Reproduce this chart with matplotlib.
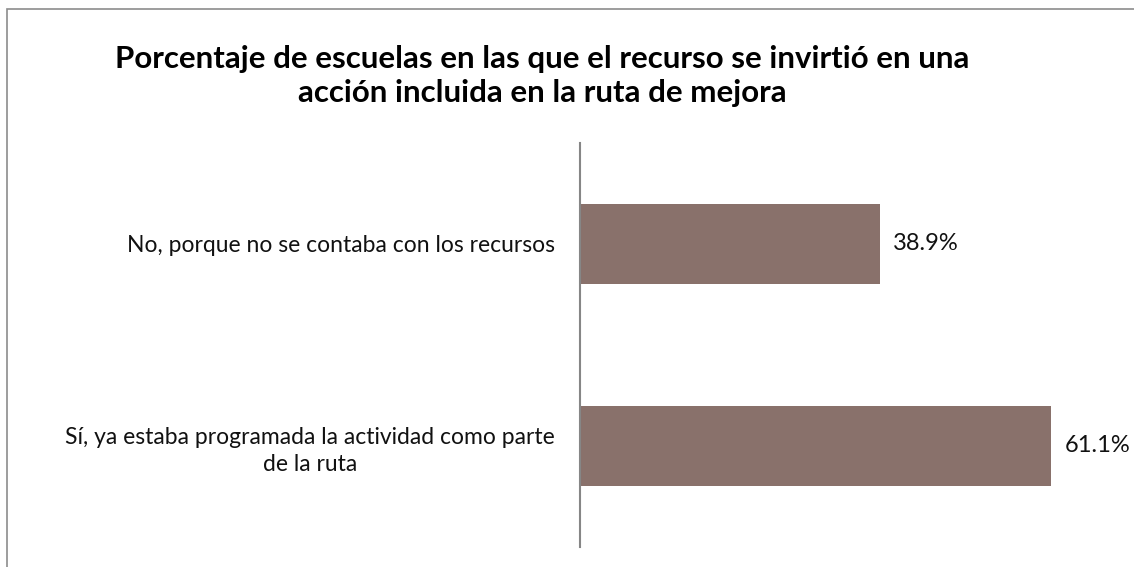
import matplotlib.pyplot as plt
from matplotlib.patches import Rectangle

categories = ["No, porque no se contaba con los recursos",
              "Sí, ya estaba programada la actividad como parte\nde la ruta"]
values = [38.9, 61.1]
title = "Porcentaje de escuelas en las que el recurso se invirtió en una\nacción incluida en la ruta de mejora"

plt.rcParams["font.family"] = ["Lato", "DejaVu Sans"]

W, H = 1134, 567
fig = plt.figure(figsize=(W / 100, H / 100), dpi=100)

# outer chart border (only left and top edges fall inside the image)
fig.patches.append(Rectangle((7 / W, -0.1), 1.2, 1 - 9 / H + 0.1, transform=fig.transFigure,
                             fill=False, edgecolor="#8c8c8c", linewidth=1.2))

ax = fig.add_axes([580 / W, 1 - 547 / H, 540 / W, 404 / H])
ypos = list(range(len(categories)))
ax.barh(ypos, values, height=0.4, color="#89716b")
ax.set_xlim(0, 70)
ax.set_ylim(1.5, -0.5)

for y, v in zip(ypos, values):
    ax.text(v + 1.7, y, f"{v:.1f}%", va="center", ha="left", fontsize=17, color="#111111")

ax.set_yticks(ypos)
ax.set_yticklabels(categories, fontsize=16.5, multialignment="center", color="#111111",
                   linespacing=1.35)
ax.tick_params(axis="y", length=0, pad=18)
ax.set_xticks([])
for side in ["top", "right", "bottom"]:
    ax.spines[side].set_visible(False)
ax.spines["left"].set_color("#868686")
ax.spines["left"].set_linewidth(1.5)

fig.text(542 / W, 1 - 76 / H, title, ha="center", va="center", fontsize=22.5,
         fontweight="bold", linespacing=1.3, color="#000000")

fig.savefig("out.png", dpi=100)
